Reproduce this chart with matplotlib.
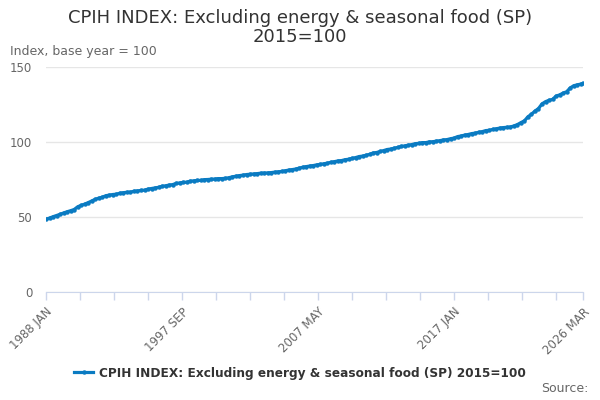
import matplotlib
matplotlib.use("Agg")
import matplotlib.pyplot as plt
import numpy as np

# quarterly readings (Jan, Apr, Jul, Oct) off the chart, 2015=100
years = list(range(1988, 2026))
quarter_months = [0, 3, 6, 9]
values = [
    [48.5, 49.3, 50.2, 51.0],      # 1988
    [51.8, 52.7, 53.5, 54.2],      # 1989
    [55.0, 56.8, 57.8, 58.6],      # 1990
    [59.6, 60.7, 61.8, 62.6],      # 1991
    [63.2, 64.2, 64.6, 65.0],      # 1992
    [65.2, 65.9, 66.2, 66.5],      # 1993
    [66.6, 67.2, 67.4, 67.7],      # 1994
    [67.9, 68.6, 69.0, 69.4],      # 1995
    [69.8, 70.5, 70.8, 71.3],      # 1996
    [71.6, 72.4, 72.7, 73.1],      # 1997
    [73.2, 73.9, 74.1, 74.4],      # 1998
    [74.4, 74.9, 75.0, 75.2],      # 1999
    [75.3, 75.6, 75.6, 75.8],      # 2000
    [76.2, 76.8, 77.2, 77.6],      # 2001
    [77.9, 78.3, 78.5, 78.7],      # 2002
    [78.9, 79.2, 79.3, 79.4],      # 2003
    [79.6, 79.9, 80.1, 80.4],      # 2004
    [80.8, 81.3, 81.6, 82.0],      # 2005
    [82.6, 83.2, 83.6, 84.0],      # 2006
    [84.3, 84.8, 85.1, 85.5],      # 2007
    [85.9, 86.5, 86.9, 87.4],      # 2008
    [87.6, 88.2, 88.5, 89.1],      # 2009
    [89.6, 90.3, 90.6, 91.2],      # 2010
    [91.8, 92.7, 93.0, 93.7],      # 2011
    [94.3, 95.0, 95.3, 95.9],      # 2012
    [96.4, 97.1, 97.4, 97.9],      # 2013
    [98.3, 98.9, 99.1, 99.6],      # 2014
    [99.6, 100.1, 100.2, 100.6],   # 2015
    [100.9, 101.4, 101.6, 102.2],  # 2016
    [102.6, 103.6, 104.0, 104.6],  # 2017
    [105.0, 105.6, 105.9, 106.5],  # 2018
    [106.9, 107.6, 107.8, 108.4],  # 2019
    [108.8, 109.3, 109.6, 109.8],  # 2020
    [110.0, 110.7, 111.6, 112.9],  # 2021
    [114.1, 116.8, 118.5, 120.6],  # 2022
    [122.3, 125.4, 126.9, 127.8],  # 2023
    [128.4, 130.6, 131.4, 132.6],  # 2024
    [133.5, 136.0, 137.5, 138.1],  # 2025
]
last_months = [(2026, 0), (2026, 2)]
last_values = [138.6, 139.1]

tick_labels = ["1988 JAN", "1997 SEP", "2007 MAY", "2017 JAN", "2026 MAR"]
label_months = [0, 116, 232, 348, 458]
minor_step = 29

x = []
y = []
for yr, row in zip(years, values):
    for qm, v in zip(quarter_months, row):
        x.append((yr - 1988) * 12 + qm)
        y.append(v)
for (yr, mo), v in zip(last_months, last_values):
    x.append((yr - 1988) * 12 + mo)
    y.append(v)

blue = "#0a7bc2"
grey = "#666666"

fig = plt.figure(figsize=(6, 4), dpi=100)
ax = fig.add_axes([0.0767, 0.27, 0.895, 0.5625])

ax.plot(x, y, color=blue, lw=2.3, marker="o", ms=2.2,
        label="CPIH INDEX: Excluding energy & seasonal food (SP) 2015=100")

ax.set_xlim(0, 458)
ax.set_ylim(0, 150)
ax.set_yticks([0, 50, 100, 150])
ax.yaxis.grid(True, color="#e6e6e6", lw=1)
ax.set_axisbelow(True)

ticks = list(range(0, 458, minor_step)) + [458]
ax.set_xticks(ticks)
ax.set_xticklabels([tick_labels[label_months.index(t)] if t in label_months else "" for t in ticks],
                   rotation=45, ha="right", rotation_mode="anchor")
ax.tick_params(axis="x", colors="#ccd6eb", length=6, width=1, labelcolor=grey, labelsize=8.5)
ax.tick_params(axis="y", length=0, labelcolor=grey, labelsize=8.5, pad=10)

for s in ["top", "right", "left"]:
    ax.spines[s].set_visible(False)
ax.spines["bottom"].set_color("#ccd6eb")

fig.text(0.5, 0.978, "CPIH INDEX: Excluding energy & seasonal food (SP)\n2015=100",
         ha="center", va="top", fontsize=13, color="#333333", linespacing=1.1)
fig.text(0.017, 0.87, "Index, base year = 100", fontsize=9, color=grey, va="center")
fig.text(0.98, 0.028, "Source:", fontsize=9, color=grey, ha="right", va="center")

leg = fig.legend(loc="center", bbox_to_anchor=(0.5, 0.067), frameon=False,
                 prop={"weight": "bold", "size": 8.7}, handlelength=1.5, handletextpad=0.5)
for t in leg.get_texts():
    t.set_color("#333333")

fig.savefig("out.png", dpi=100)
